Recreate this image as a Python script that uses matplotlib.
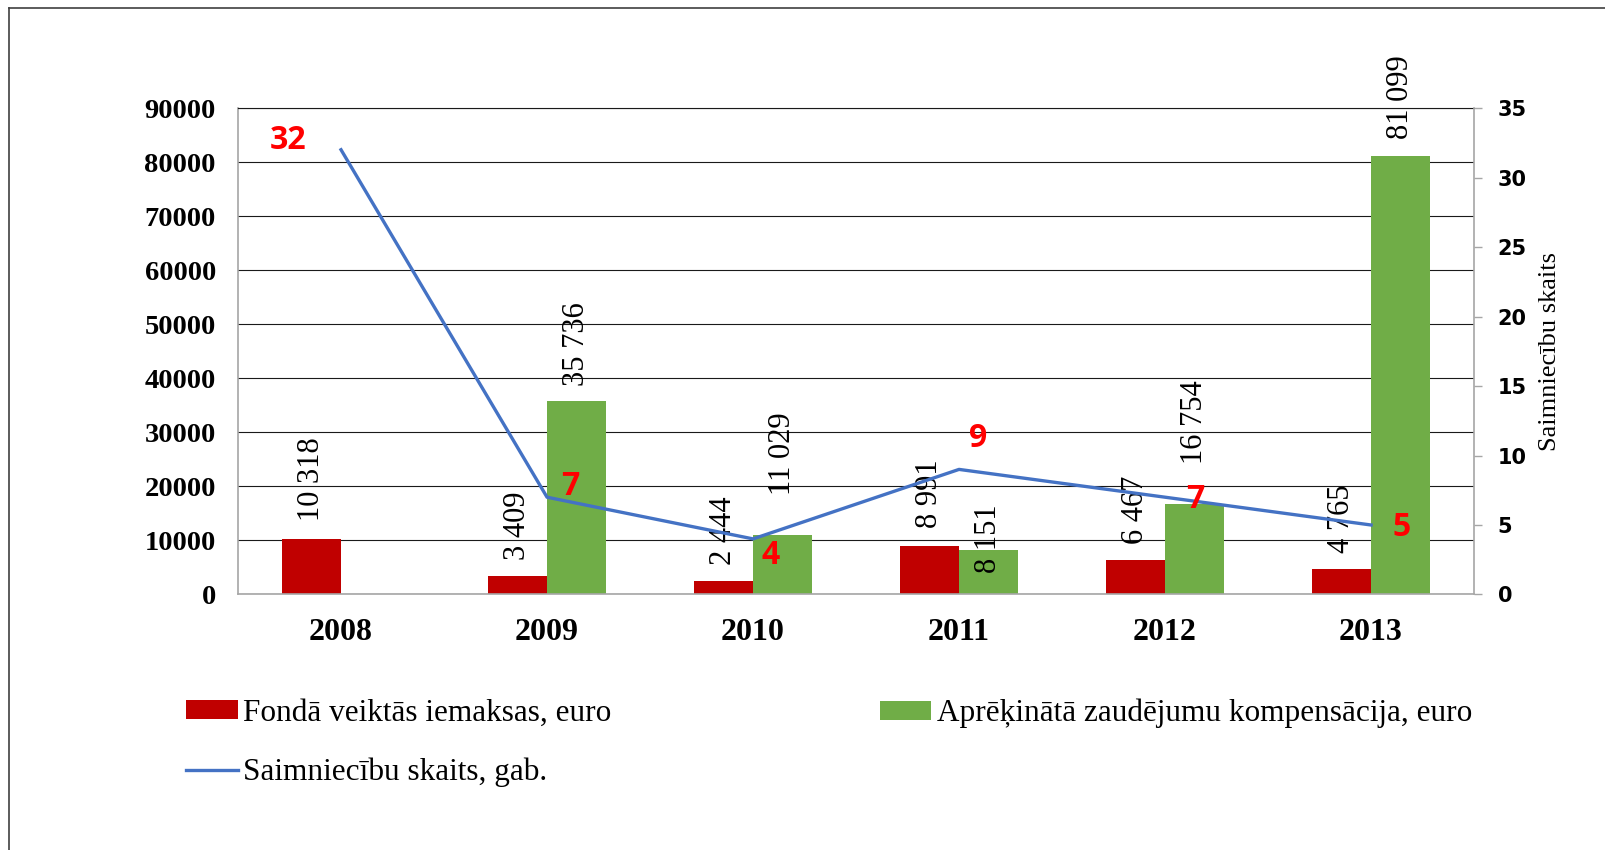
import matplotlib
matplotlib.use('Agg')
import matplotlib.pyplot as plt
from matplotlib.lines import Line2D
import numpy as np

plt.rcParams['font.family'] = ['Liberation Serif', 'DejaVu Serif']

years = ['2008', '2009', '2010', '2011', '2012', '2013']
contributions = [10318, 3409, 2444, 8991, 6467, 4765]      # Fondā veiktās iemaksas
compensation = [0, 35736, 11029, 8151, 16754, 81099]       # Aprēķinātā kompensācija
farms = [32, 7, 4, 9, 7, 5]                                # Saimniecību skaits

name_red = 'Fondā veiktās iemaksas, euro'
name_green = 'Aprēķinātā zaudējumu kompensācija, euro'
name_line = 'Saimniecību skaits, gab.'

# label placement tweaks (points), as in the original chart
red_lbl_off = [13, 11.5, 11.5, 13, 11.5, 11]
green_lbl_off = [0, 11, 28.5, -16.5, 29, 12]
farm_lbl_off = [(-38, 7), (17, 8), (12.7, -12), (14, 22), (22, -1.5), (22, -2)]

fig = plt.figure(figsize=(16.05, 8.5), dpi=100)
ax = fig.add_axes([0.1483, 0.3006, 0.9184 - 0.1483, 0.8729 - 0.3006])

x = np.arange(len(years))
w = 0.285
b_red = ax.bar(x - w / 2, contributions, w, color='#C00000', zorder=2)
b_green = ax.bar(x + w / 2, compensation, w, color='#70AD47', zorder=2)

def fmt(v):
    return f'{v:,}'.replace(',', ' ')

for xi, v, off in zip(x - w / 2, contributions, red_lbl_off):
    ax.annotate(fmt(v), (xi, v), xytext=(0, off), textcoords='offset points',
                rotation=90, ha='center', va='bottom', fontsize=22, zorder=3)
for xi, v, off in zip(x + w / 2, compensation, green_lbl_off):
    if v:
        ax.annotate(fmt(v), (xi, v), xytext=(0, off), textcoords='offset points',
                    rotation=90, ha='center', va='bottom', fontsize=22, zorder=3)

ax.set_xlim(-0.5, 5.5)
ax.set_ylim(0, 90000)
yt = list(range(0, 90001, 10000))
ax.set_yticks(yt)
ax.set_yticklabels([str(t) for t in yt], fontweight='bold', fontsize=20.5)
ax.set_xticks(x)
ax.set_xticklabels(years, fontweight='bold', fontsize=23)
ax.tick_params(axis='y', length=0, pad=16)
ax.tick_params(axis='x', length=0, pad=17)
ax.yaxis.grid(True, color='#1a1a1a', lw=0.8)
ax.set_axisbelow(True)
ax.spines['right'].set_visible(False)
ax.spines['top'].set_color('#1a1a1a')
ax.spines['top'].set_linewidth(0.8)
for s in ['left', 'bottom']:
    ax.spines[s].set_color('#A6A6A6')
    ax.spines[s].set_linewidth(1.2)

ax2 = ax.twinx()
line, = ax2.plot(x, farms, color='#4472C4', lw=2.4)
ax2.set_ylim(0, 35)
rt = list(range(0, 36, 5))
ax2.set_yticks(rt)
ax2.set_yticklabels([str(t) for t in rt], fontweight='bold', fontsize=15,
                    family=['DejaVu Sans'])
ax2.tick_params(axis='y', length=6, width=1, color='#A6A6A6', pad=11)
for s in ['left', 'bottom', 'top']:
    ax2.spines[s].set_visible(False)
ax2.spines['right'].set_color('#A6A6A6')
ax2.spines['right'].set_linewidth(1.2)
ax2.set_ylabel('Saimniecību skaits', fontsize=19, labelpad=9)

for xi, v, (dx, dy) in zip(x, farms, farm_lbl_off):
    ax2.annotate(str(v), (xi, v), xytext=(dx, dy), textcoords='offset points',
                 ha='center', va='center', color='#FF0000', fontsize=23,
                 fontweight='bold', family=['Open Sans', 'DejaVu Sans'])

leg_kw = dict(loc='upper left', frameon=False, fontsize=22.5, handlelength=1.65,
              handleheight=0.55, handletextpad=0.18, labelspacing=0.95,
              borderpad=0, borderaxespad=0)
fig.legend([b_red, line], [name_red, name_line], bbox_to_anchor=(0.116, 0.178), **leg_kw)
fig.legend([b_green], [name_green], bbox_to_anchor=(0.548, 0.178), **leg_kw)

# outer chart border (only left and top visible)
fig.add_artist(Line2D([9 / 1605, 9 / 1605], [0, 1 - 8 / 850], transform=fig.transFigure,
                      color='#404040', lw=1.2))
fig.add_artist(Line2D([9 / 1605, 1], [1 - 8 / 850, 1 - 8 / 850], transform=fig.transFigure,
                      color='#404040', lw=1.2))

fig.savefig('out.png', dpi=100)
